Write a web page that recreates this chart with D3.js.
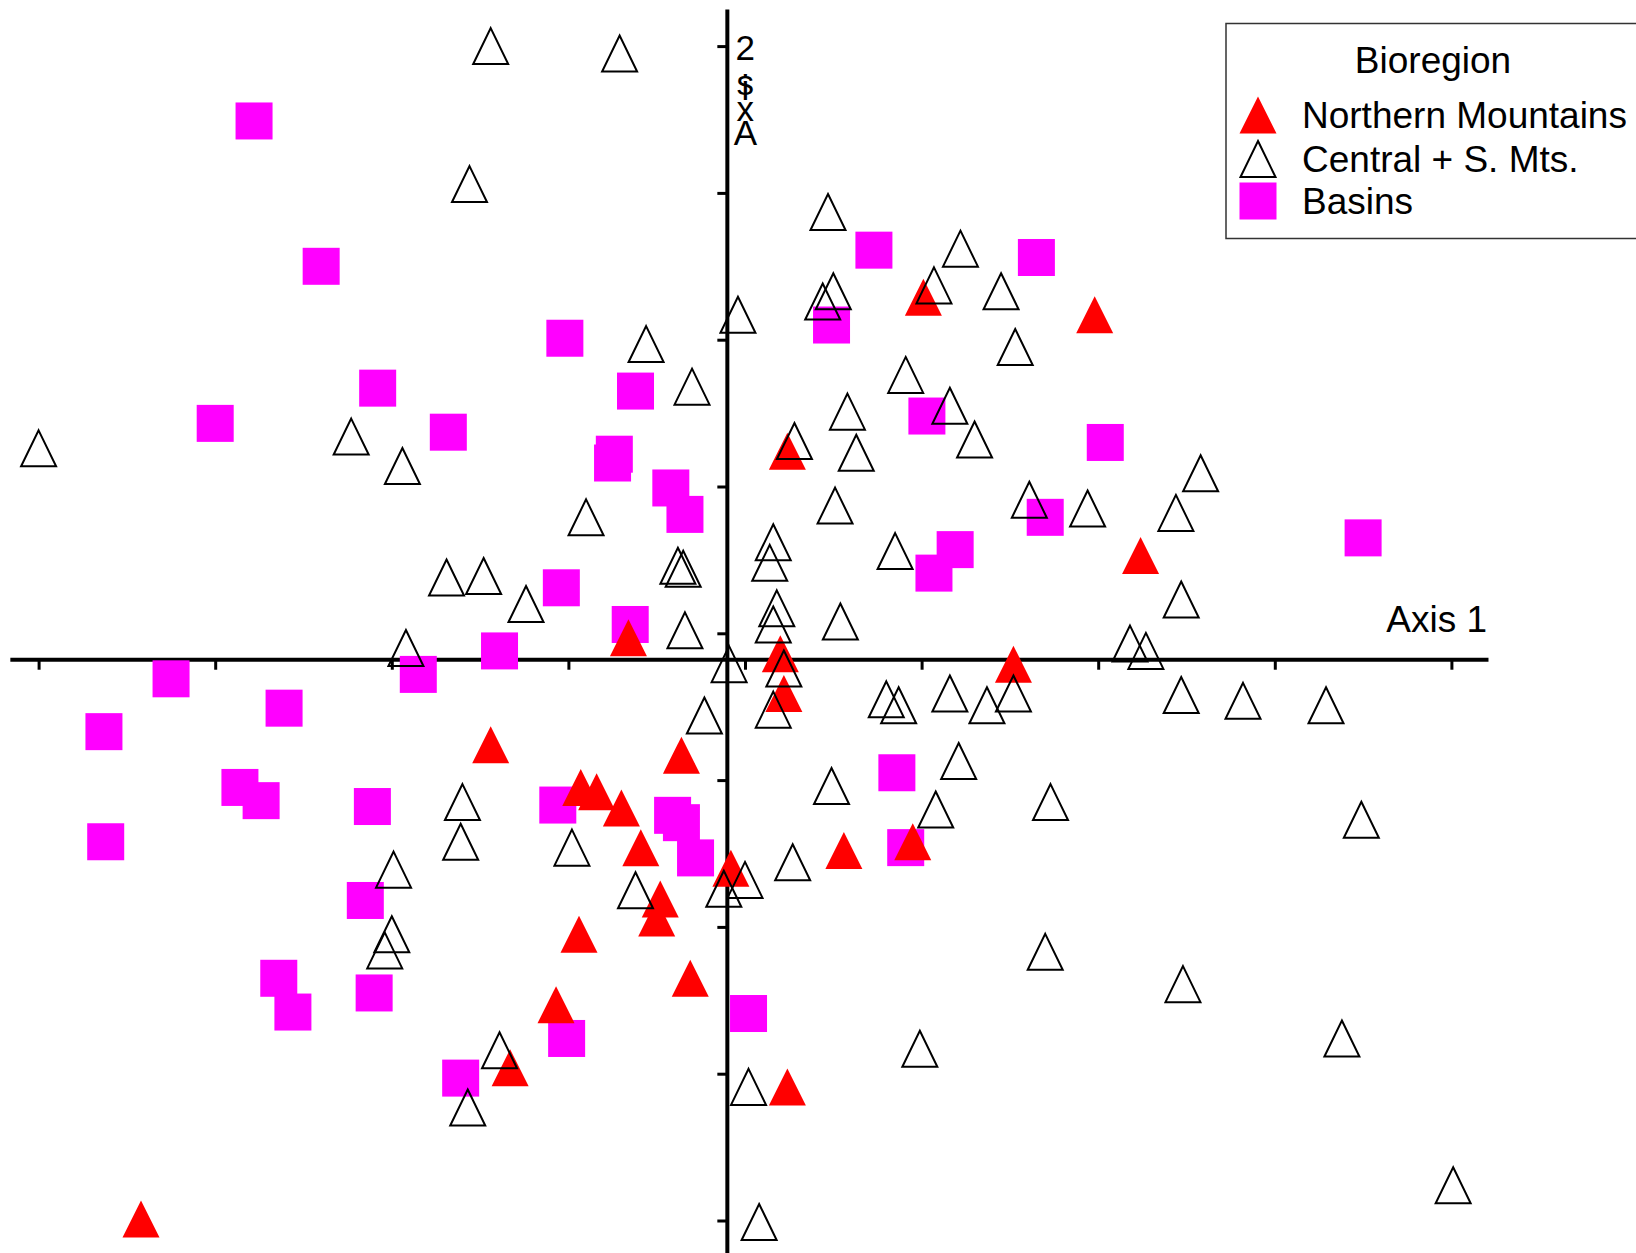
<!DOCTYPE html>
<html>
<head>
<meta charset="utf-8">
<script src="https://cdn.jsdelivr.net/npm/d3@7"></script>
<style>
  html, body { margin: 0; padding: 0; background: #fff; overflow: hidden; }
  svg { display: block; }
</style>
</head>
<body>
<svg id="chart" width="1636" height="1253"></svg>
<script>
// Ordination scores (Axis 1, Axis 2) by bioregion
const groupNames = ["Northern Mountains", "Central + S. Mts.", "Basins"];

const northernX = [1.01, 1.98, 0.24, 2.24, -0.66, 0.20, 0.22, 1.52, -1.44, -0.36, -0.93, -0.84, -0.70,
  -0.59, -0.08, -0.48, -0.50, -0.94, -0.31, -1.07, -1.33, 0.24, -3.42, 0.56, 0.95];
const northernY = [2.29, 2.17, 1.24, 0.53, -0.03, -0.14, -0.41, -0.21, -0.76, -0.83, -1.05, -1.08, -1.19,
  -1.46, -1.60, -1.81, -1.94, -2.05, -2.35, -2.53, -2.96, -3.09, -3.99, -1.48, -1.42];

const centralX = [-4.00, -2.23, -1.94, -1.44, -0.71, -1.56, -0.56, -0.30, -0.04, 0.47, 0.28, -0.90, -1.69,
  -1.48, -1.24, -0.38, -0.35, 0.16, 0.14, 0.18, 0.16, -0.34, -1.92, -0.09, 0.22, 0.16, -0.23, 0.50,
  0.44, 1.22, 1.07, 1.45, 1.53, 0.91, 0.58, 1.16, 1.30, 0.63, 0.51, 1.61, 1.94, 2.58, 2.44, 0.85,
  2.47, 0.54, 2.18, 2.27, 0.80, 0.87, 1.16, 1.37, 1.52, 2.47, 2.82, 3.29, 1.21, 0.49, 1.08, 1.73,
  3.49, -1.60, -1.61, -0.98, -1.99, -0.62, 0.00, -0.12, 0.27, -2.00, -2.04, -1.39, -1.57, 0.02,
  0.08, 1.70, 2.48, 0.99, 3.38, 4.01];
const centralY = [1.26, 1.34, 1.14, 4.00, 3.95, 3.06, 1.97, 1.68, 2.17, 2.87, 1.31, 0.79, 0.38,
  0.39, 0.20, 0.46, 0.44, 0.62, 0.48, 0.17, 0.06, 0.02, -0.10, -0.21, -0.24, -0.52, -0.56, 2.33,
  2.26, 2.62, 2.37, 2.33, 1.95, 1.76, 1.51, 1.55, 1.32, 1.23, 0.87, 0.91, 0.85, 1.09, 0.82, 0.56,
  0.23, 0.08, -0.07, -0.12, -0.45, -0.49, -0.41, -0.49, -0.41, -0.42, -0.46, -0.49, -0.87, -1.04,
  -1.20, -1.15, -1.27, -1.15, -1.42, -1.46, -1.61, -1.75, -1.68, -1.74, -1.56, -2.05, -2.16, -2.84,
  -3.23, -3.09, -4.01, -2.17, -2.39, -2.83, -2.76, -3.76];

const basinsX = [-2.78, -2.40, -1.02, -2.08, -0.62, -3.00, -1.68, -0.74, -0.75, -0.42, -0.34, -1.04,
  -0.65, -1.39, -1.85, -3.25, -2.61, -3.63, -2.86, -2.74, -2.11, -1.06, -3.62, -0.41, -0.36, -0.28,
  -2.15, -2.64, -2.56, -2.10, 0.02, -1.01, -1.61, 0.73, 1.65, 0.49, 1.03, 2.04, 1.70, 1.19, 1.07,
  3.50, 0.86, 0.91];
const basinsY = [3.49, 2.50, 2.01, 1.67, 1.65, 1.43, 1.37, 1.22, 1.16, 0.99, 0.81, 0.31, 0.06, -0.12,
  -0.28, -0.31, -0.51, -0.67, -1.05, -1.14, -1.18, -1.17, -1.42, -1.24, -1.29, -1.53, -1.82, -2.35,
  -2.58, -2.45, -2.59, -2.76, -3.03, 2.61, 2.56, 2.10, 1.48, 1.30, 0.79, 0.57, 0.41, 0.65, -0.95, -1.46];

const tickValues = [-4, -3, -2, -1, 0, 1, 2, 3, 4];
const axisTitles = ["Axis 1", "Axis 2"];
const legendTitle = "Bioregion";

// ---- layout ----
const svg = d3.select("#chart");
const FONT = "Arial, 'Liberation Sans', Helvetica, sans-serif";

const x = d3.scaleLinear().domain([-4, 4]).range([38.6, 1451.4]);
const y = d3.scaleLinear().domain([-4, 4]).range([1220.5, 46.1]);

// axes cross slightly off the tick grid
const crossX = -0.1, crossY = -0.18;
const xLineExtent = [-4.16, 4.21];
const yLineExtent = [-4.3, 4.25];

const MARK = 37;
const triPath = (w, h) => `M0,${-h / 2}L${w / 2},${h / 2}L${-w / 2},${h / 2}Z`;

// ---- axes ----
const axisG = svg.append("g");

axisG.append("g")
  .attr("transform", `translate(0,${y(crossY)})`)
  .call(d3.axisBottom(x).tickValues(tickValues).tickSize(10).tickFormat(""))
  .call(g => g.select(".domain").remove())
  .call(g => g.selectAll(".tick line").attr("stroke", "#000").attr("stroke-width", 3));

axisG.append("g")
  .attr("transform", `translate(${x(crossX)},0)`)
  .call(d3.axisLeft(y).tickValues(tickValues).tickSize(10).tickFormat(""))
  .call(g => g.select(".domain").remove())
  .call(g => g.selectAll(".tick line").attr("stroke", "#000").attr("stroke-width", 3));

axisG.append("line")
  .attr("x1", x(xLineExtent[0])).attr("x2", x(xLineExtent[1]))
  .attr("y1", y(crossY)).attr("y2", y(crossY))
  .attr("stroke", "#000").attr("stroke-width", 4);

axisG.append("line")
  .attr("x1", x(crossX)).attr("x2", x(crossX))
  .attr("y1", y(yLineExtent[1])).attr("y2", y(yLineExtent[0]))
  .attr("stroke", "#000").attr("stroke-width", 4);

// ---- points ----
const basins = d3.zip(basinsX, basinsY);
const northern = d3.zip(northernX, northernY);
const central = d3.zip(centralX, centralY);

svg.append("g").selectAll("rect")
  .data(basins).join("rect")
  .attr("x", d => x(d[0]) - MARK / 2)
  .attr("y", d => y(d[1]) - MARK / 2)
  .attr("width", MARK).attr("height", MARK)
  .attr("fill", "#ff00ff");

svg.append("g").selectAll("path")
  .data(northern).join("path")
  .attr("transform", d => `translate(${x(d[0])},${y(d[1])})`)
  .attr("d", triPath(MARK, MARK))
  .attr("fill", "#ff0000");

svg.append("g").selectAll("path")
  .data(central).join("path")
  .attr("transform", d => `translate(${x(d[0])},${y(d[1])})`)
  .attr("d", triPath(MARK - 2, MARK - 1))
  .attr("fill", "none")
  .attr("stroke", "#000")
  .attr("stroke-width", 2);

// ---- axis titles ----
svg.append("text")
  .attr("x", 1487).attr("y", 632)
  .attr("text-anchor", "end")
  .attr("font-family", FONT).attr("font-size", 37)
  .text(axisTitles[0]);

// second axis title: upright characters stacked upward from the bottom
const stackChars = axisTitles[1].replace(" ", "").split("").reverse();   // ["2","s","i","x","A"]
const stackBaselines = [60, 95, 100, 121, 145];
svg.append("text")
  .attr("text-anchor", "middle")
  .attr("font-family", FONT).attr("font-size", 35)
  .selectAll("tspan")
  .data(stackChars).join("tspan")
  .attr("x", x(crossX) + 18)
  .attr("y", (d, i) => stackBaselines[i])
  .text(d => d);

// ---- legend ----
const legend = svg.append("g");
legend.append("rect")
  .attr("x", 1226).attr("y", 23.5)
  .attr("width", 440).attr("height", 215)
  .attr("fill", "#fff").attr("stroke", "#333").attr("stroke-width", 1.5);

legend.append("text")
  .attr("x", 1433).attr("y", 73)
  .attr("text-anchor", "middle")
  .attr("font-family", FONT).attr("font-size", 37)
  .text(legendTitle);

const rowY = [128, 172, 214];
groupNames.forEach((name, i) => {
  const cy = rowY[i] - 13;
  if (i === 2) {
    legend.append("rect")
      .attr("x", 1258 - MARK / 2).attr("y", cy - MARK / 2)
      .attr("width", MARK).attr("height", MARK)
      .attr("fill", "#ff00ff");
  } else {
    legend.append("path")
      .attr("transform", `translate(1258,${cy})`)
      .attr("d", i === 0 ? triPath(MARK, MARK) : triPath(MARK - 2, MARK - 1))
      .attr("fill", i === 0 ? "#ff0000" : "none")
      .attr("stroke", i === 0 ? "none" : "#000")
      .attr("stroke-width", 2);
  }
  legend.append("text")
    .attr("x", 1302).attr("y", rowY[i])
    .attr("font-family", FONT).attr("font-size", 37)
    .text(name);
});
</script>
</body>
</html>
